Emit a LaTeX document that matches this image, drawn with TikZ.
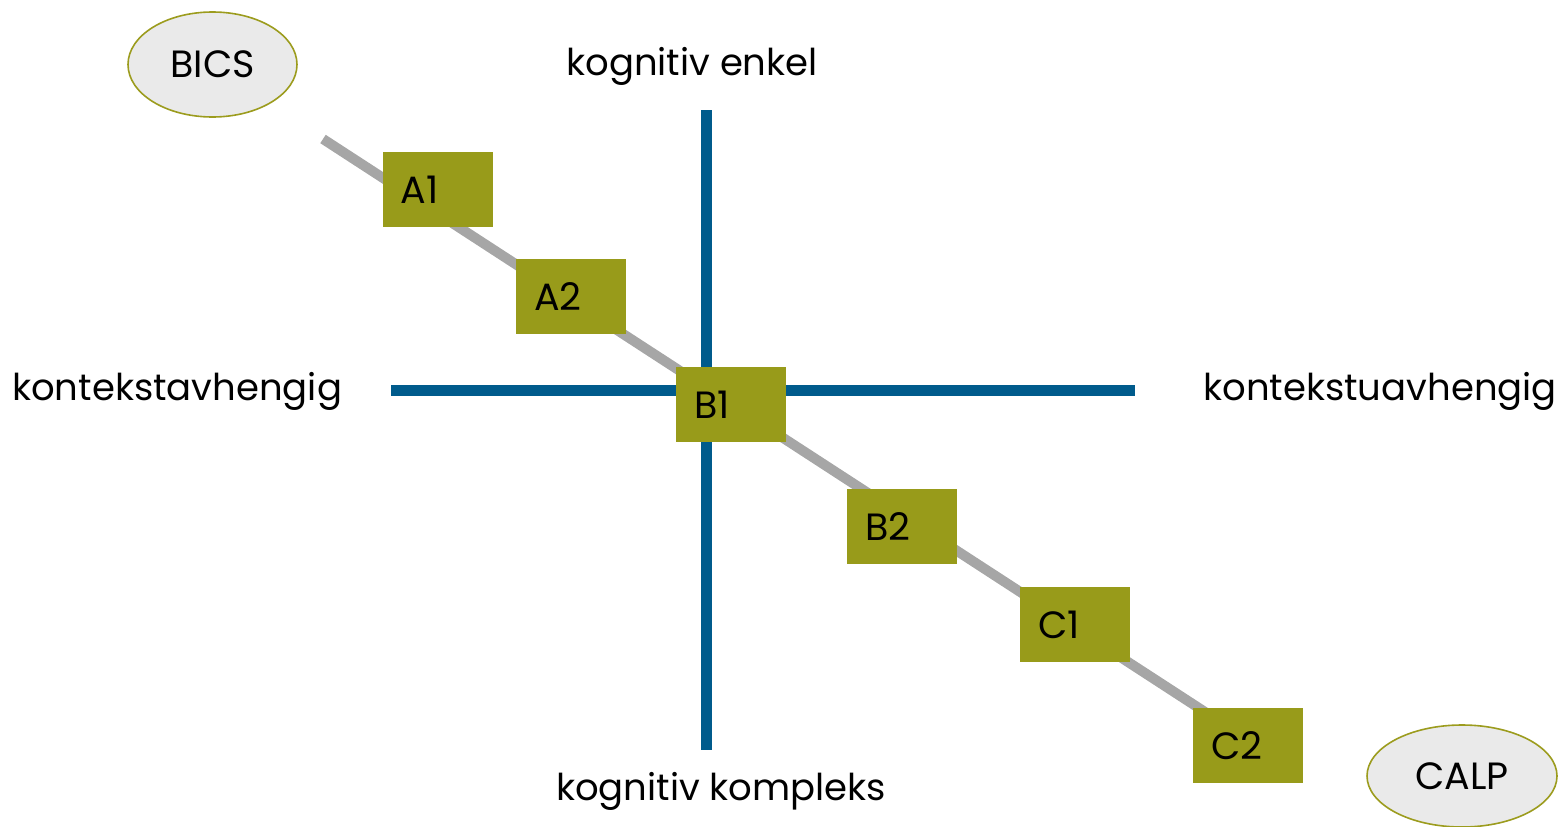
\documentclass[tikz,border=0pt]{standalone}
\usepackage{fontspec}
\setmainfont{Poppins}
\usetikzlibrary{shapes.geometric}
\definecolor{boxolive}{HTML}{989B1A}
\definecolor{ellline}{HTML}{9C9C1E}
\definecolor{ellfill}{HTML}{EAEAEA}
\definecolor{axisblue}{HTML}{005B8C}
\definecolor{pathgray}{HTML}{A6A6A6}
\begin{document}
\begin{tikzpicture}[x=1pt,y=-1pt,
  lab/.style={font=\fontsize{38}{46}\selectfont, inner sep=0pt, text=black},
  axislab/.style={font=\fontsize{37}{44}\selectfont, inner sep=0pt, text=black},
  level/.style={lab, fill=boxolive, minimum height=75pt, text width=74pt, align=left, inner xsep=18pt, inner ysep=0pt},
  pole/.style={lab, ellipse, draw=ellline, line width=1.6pt, fill=ellfill, minimum width=169pt, minimum height=105pt, inner sep=0pt},
  axis/.style={draw=axisblue, line width=11pt},
  scale line/.style={draw=pathgray, line width=10pt}]
\useasboundingbox (0,0) rectangle (1561,827);
% axes
\coordinate (vt) at (706,110);
\coordinate (vb) at (706,750);
\coordinate (hl) at (391,390);
\coordinate (hr) at (1135,390);
\draw[axis] (vt) -- (vb);
\draw[axis] (hl) -- (hr);
% diagonal
\coordinate (ds) at (323,139);
\coordinate (de) at (1225,725);
\draw[scale line] (ds) -- (de);
% levels
\node[level] (A1) at (437.5,189.5) {A1};
\node[level] (A2) at (571,296.5) {A2};
\node[level] (B1) at (731,404.5) {B1};
\node[level] (B2) at (902,526.5) {B2};
\node[level] (C1) at (1075,624.5) {C1};
\node[level] (C2) at (1248,745.5) {C2};
% poles
\node[pole] (bics) at (212.5,64.5) {BICS};
\node[pole, minimum width=190pt, minimum height=102pt] (calp) at (1462,776) {CALP};
% axis labels
\node[axislab, anchor=base] (top) at (692,75) {kognitiv enkel};
\node[axislab, anchor=base] (bot) at (721,800) {kognitiv kompleks};
\node[axislab, anchor=base west] (left) at (12,400) {kontekstavhengig};
\node[axislab, anchor=base east] (right) at (1557,400) {kontekstuavhengig};
\end{tikzpicture}
\end{document}
